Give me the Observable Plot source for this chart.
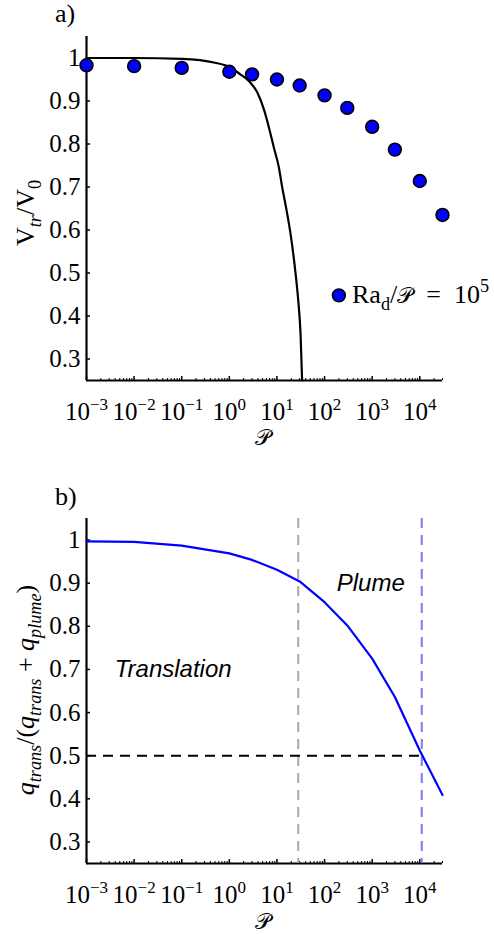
<!DOCTYPE html>
<html>
<head>
<meta charset="utf-8">
<script src="https://cdn.jsdelivr.net/npm/d3@7"></script>
<script src="https://cdn.jsdelivr.net/npm/@observablehq/plot@0.6"></script>
<style>
  html, body { margin: 0; padding: 0; background: #fff; }
  #chart { width: 494px; }
  #chart svg { display: block; overflow: visible; }
</style>
</head>
<body>
<div id="chart"></div>
<script>
// ---- data ----
const P = [0.001, 0.01, 0.1, 1, 3, 10, 30, 100, 300, 1000, 3000, 10000, 30000];
const vRatio = [0.983, 0.981, 0.977, 0.968, 0.962, 0.950, 0.936, 0.913, 0.884, 0.840, 0.787, 0.714, 0.635];
const modelP = [0.001, 0.01, 0.1, 0.5, 1, 1.7, 2.6, 3.9, 5.3, 6.8, 8.6, 11, 12.9, 15.5, 19.3, 23.8, 28, 31.3, 33.8];
const modelV = [1.0, 1.0, 0.998, 0.989, 0.979, 0.962, 0.946, 0.919, 0.881, 0.838, 0.792, 0.745, 0.699, 0.653, 0.591, 0.513, 0.436, 0.359, 0.25];
const qFrac = [0.997, 0.996, 0.987, 0.969, 0.954, 0.931, 0.904, 0.856, 0.802, 0.725, 0.636, 0.512, 0.409];
const regimeBounds = [28, 11000];
const halfLevel = [0.5];
const regimeNames = ["Translation", "Plume"];
const regimeX = [0.066, 933];
const regimeY = [0.70, 0.899];
const legendP = [200];
const legendV = [0.448];
const xDecades = [1e-3, 1e-2, 1e-1, 1, 10, 100, 1000, 10000];
const xExponents = ["−3", "−2", "−1", "0", "1", "2", "3", "4"];
const yTicks = [0.3, 0.4, 0.5, 0.6, 0.7, 0.8, 0.9, 1];
const yTickLabels = ["0.3", "0.4", "0.5", "0.6", "0.7", "0.8", "0.9", "1"];
const xDomain = [1e-3, 3e4];
const yDomain = [0.25, 1.05];

// tables built from the arrays
const dots = P.map((p, i) => ({p, v: vRatio[i]}));
const model = modelP.map((p, i) => ({p, v: modelV[i]}));
const qLine = P.map((p, i) => ({p, q: qFrac[i]}));
const regimes = regimeNames.map((name, i) => ({name, p: regimeX[i], q: regimeY[i]}));
const minorTicks = d3.scaleLog().domain(xDomain).ticks().filter(t => !xDecades.some(d => Math.abs(d - t) / d < 1e-6));

const SERIF = "'Liberation Serif', 'Times New Roman', 'DejaVu Serif', serif";
const SANS = "'Liberation Sans', Arial, Helvetica, sans-serif";
const FS = 25;

function baseMarks() {
  return [
    Plot.axisX({ticks: minorTicks, tickSize: -2, tickFormat: () => "", strokeWidth: 1, label: null}),
    Plot.axisX({ticks: xDecades, tickSize: -4, strokeWidth: 1.5, tickPadding: 26,
      tickFormat: d => "10^" + xExponents[xDecades.findIndex(t => Math.abs(t - d) / t < 1e-6)], label: null}),
    Plot.axisY({ticks: yTicks, tickSize: -4, strokeWidth: 1.5, tickPadding: 10,
      tickFormat: d => yTickLabels[yTicks.findIndex(t => Math.abs(t - d) < 1e-9)], label: null}),
    Plot.ruleX([xDomain[0]], {strokeWidth: 2.2, stroke: "black"}),
    Plot.ruleY([yDomain[0]], {strokeWidth: 2.2, stroke: "black"})
  ];
}

function rich(sel, segs, size) {
  let shift = 0;
  segs.forEach(s => {
    const target = s.sub ? 0.28 : s.sup ? -0.42 : 0;
    const ts = sel.append("tspan").text(s.t);
    const dy = (target - shift) * size;
    if (dy) ts.attr("dy", dy);
    shift = target;
    ts.attr("font-size", (s.sub || s.sup) ? size * 0.7 : size);
    if (s.it) ts.attr("font-style", "italic");
    if (s.font) ts.attr("font-family", s.font);
    if (s.fs) ts.attr("font-size", s.fs);
  });
}

function fixTicks(svg) {
  d3.select(svg).selectAll('g[aria-label="x-axis tick label"] text').each(function () {
    const t = d3.select(this);
    const s = t.text();
    if (!s.includes("^")) return;
    const [base, exp] = s.split("^");
    t.text(null);
    t.append("tspan").text(base);
    t.append("tspan").attr("dy", -10).attr("font-size", 17).text(exp);
  });
}

const SCRIPT_P = "𝒫";

// ---------- Panel a ----------
const H = 467;
const a = Plot.plot({
  width: 494, height: H,
  marginLeft: 86, marginRight: 52, marginTop: 36, marginBottom: 87,
  style: {fontFamily: SERIF, fontSize: FS + "px", color: "black", background: "white", overflow: "visible"},
  x: {type: "log", domain: xDomain},
  y: {domain: yDomain},
  marks: [
    ...baseMarks(),
    Plot.line(model, {x: "p", y: "v", curve: "monotone-x", stroke: "black", strokeWidth: 2.2}),
    Plot.dot(dots, {x: "p", y: "v", r: 6.4, fill: "#0000ff", stroke: "black", strokeWidth: 1.6}),
    Plot.dot(legendP.map((p, i) => ({p, v: legendV[i]})), {x: "p", y: "v", r: 6.4, fill: "#0000ff", stroke: "black", strokeWidth: 1.6})
  ]
});
fixTicks(a);
{
  const s = d3.select(a);
  s.append("text").attr("x", 55).attr("y", 22).attr("text-anchor", "start").attr("font-family", SERIF).attr("font-size", 26).text("a)");
  const yl = s.append("text").attr("transform", "translate(34,213) rotate(-90)").attr("text-anchor", "middle")
    .attr("font-family", SERIF);
  rich(yl, [{t: "V"}, {t: "tr", sub: true, it: true}, {t: "/V"}, {t: "0", sub: true}], 26);
  s.append("text").attr("x", 263).attr("y", 445).attr("text-anchor", "middle").attr("font-family", SERIF)
    .attr("font-size", 22).text(SCRIPT_P);
  const lg = s.append("text").attr("x", 352).attr("y", 303).attr("text-anchor", "start").attr("font-family", SERIF);
  rich(lg, [{t: "Ra"}, {t: "d", sub: true}, {t: "/"}, {t: SCRIPT_P, fs: 22}, {t: "\u2002=\u200210"}, {t: "5", sup: true}], 26);
}

// ---------- Panel b ----------
const b = Plot.plot({
  width: 494, height: H,
  marginLeft: 86, marginRight: 52, marginTop: 51, marginBottom: 71,
  style: {fontFamily: SERIF, fontSize: FS + "px", color: "black", background: "white", overflow: "visible"},
  x: {type: "log", domain: xDomain},
  y: {domain: yDomain},
  marks: [
    ...baseMarks(),
    Plot.ruleX([regimeBounds[0]], {stroke: "#a8a8a8", strokeWidth: 2, strokeDasharray: "10,7"}),
    Plot.ruleX([regimeBounds[1]], {stroke: "#7b7bf0", strokeWidth: 2, strokeDasharray: "10,7"}),
    Plot.ruleY(halfLevel, {x1: xDomain[0], x2: regimeBounds[1], stroke: "black", strokeWidth: 2, strokeDasharray: "10,7"}),
    Plot.line(qLine, {x: "p", y: "q", stroke: "#0000ff", strokeWidth: 2.2}),
    Plot.text(regimes, {x: "p", y: "q", text: "name", fontFamily: SANS, fontStyle: "italic", fontSize: 24, fill: "black"})
  ]
});
fixTicks(b);
{
  const s = d3.select(b);
  s.append("text").attr("x", 55).attr("y", 38).attr("text-anchor", "start").attr("font-family", SERIF).attr("font-size", 26).text("b)");
  const yl = s.append("text").attr("transform", "translate(34,223) rotate(-90)").attr("text-anchor", "middle")
    .attr("font-family", SERIF);
  rich(yl, [
    {t: "q", it: true}, {t: "trans", sub: true, it: true}, {t: "/("},
    {t: "q", it: true}, {t: "trans", sub: true, it: true}, {t: " + "},
    {t: "q", it: true}, {t: "plume", sub: true, it: true}, {t: ")"}
  ], 26);
  s.append("text").attr("x", 263).attr("y", 462).attr("text-anchor", "middle").attr("font-family", SERIF)
    .attr("font-size", 22).text(SCRIPT_P);
}

document.getElementById("chart").append(a, b);
</script>
</body>
</html>
